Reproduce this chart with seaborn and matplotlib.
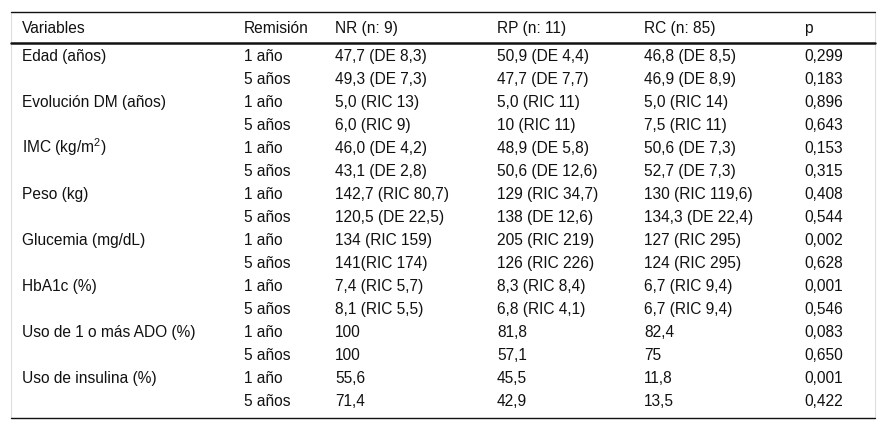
import matplotlib
matplotlib.use("Agg")
import matplotlib.pyplot as plt
import seaborn as sns

# table contents
header = ["Variables", "Remisión", "NR (n: 9)", "RP (n: 11)", "RC (n: 85)", "p"]
variables = ["Edad (años)", "Evolución DM (años)", "IMC (kg/m$^2$)", "Peso (kg)",
             "Glucemia (mg/dL)", "HbA1c (%)", "Uso de 1 o más ADO (%)", "Uso de insulina (%)"]
remision = ["1 año", "5 años"]
nr = ["47,7 (DE 8,3)", "49,3 (DE 7,3)", "5,0 (RIC 13)", "6,0 (RIC 9)",
      "46,0 (DE 4,2)", "43,1 (DE 2,8)", "142,7 (RIC 80,7)", "120,5 (DE 22,5)",
      "134 (RIC 159)", "141(RIC 174)", "7,4 (RIC 5,7)", "8,1 (RIC 5,5)",
      "100", "100", "55,6", "71,4"]
rp = ["50,9 (DE 4,4)", "47,7 (DE 7,7)", "5,0 (RIC 11)", "10 (RIC 11)",
      "48,9 (DE 5,8)", "50,6 (DE 12,6)", "129 (RIC 34,7)", "138 (DE 12,6)",
      "205 (RIC 219)", "126 (RIC 226)", "8,3 (RIC 8,4)", "6,8 (RIC 4,1)",
      "81,8", "57,1", "45,5", "42,9"]
rc = ["46,8 (DE 8,5)", "46,9 (DE 8,9)", "5,0 (RIC 14)", "7,5 (RIC 11)",
      "50,6 (DE 7,3)", "52,7 (DE 7,3)", "130 (RIC 119,6)", "134,3 (DE 22,4)",
      "127 (RIC 295)", "124 (RIC 295)", "6,7 (RIC 9,4)", "6,7 (RIC 9,4)",
      "82,4", "75", "11,8", "13,5"]
p = ["0,299", "0,183", "0,896", "0,643", "0,153", "0,315", "0,408", "0,544",
     "0,002", "0,628", "0,001", "0,546", "0,083", "0,650", "0,001", "0,422"]

sns.set_theme(style="white")
plt.rcParams['font.family'] = ['Liberation Sans', 'DejaVu Sans']
plt.rcParams['mathtext.fontset'] = 'custom'
plt.rcParams['mathtext.rm'] = 'Liberation Sans'
plt.rcParams['mathtext.it'] = 'Liberation Sans'

fig = plt.figure(figsize=(8.86, 4.30), dpi=100)
ax = fig.add_axes([0, 0, 1, 1])
ax.set_xlim(0, 886)
ax.set_ylim(430, 0)
ax.axis('off')

col_x = [22, 244, 335, 497, 644, 804]
fs = 11.2
txt = '#111111'

# borders
ax.plot([11, 11], [12, 418], color='#dddddd', lw=0.8)
ax.plot([875, 875], [12, 418], color='#dddddd', lw=0.8)
ax.plot([11, 875], [12, 12], color='#111111', lw=1.0)
ax.plot([11, 875], [42.5, 42.5], color='#111111', lw=1.8)
ax.plot([11, 875], [418, 418], color='#111111', lw=1.0)

for x, h in zip(col_x, header):
    ax.text(x, 33, h, fontsize=fs, color=txt, va='baseline', ha='left')

y0, dy = 61.0, 23.03
for i in range(len(nr)):
    y = y0 + i * dy
    if i % 2 == 0:
        ax.text(col_x[0], y, variables[i // 2], fontsize=fs, color=txt, va='baseline', ha='left')
    row = [remision[i % 2], nr[i], rp[i], rc[i], p[i]]
    for x, v in zip(col_x[1:], row):
        ax.text(x, y, v, fontsize=fs, color=txt, va='baseline', ha='left')

fig.savefig("out.png", dpi=100)
